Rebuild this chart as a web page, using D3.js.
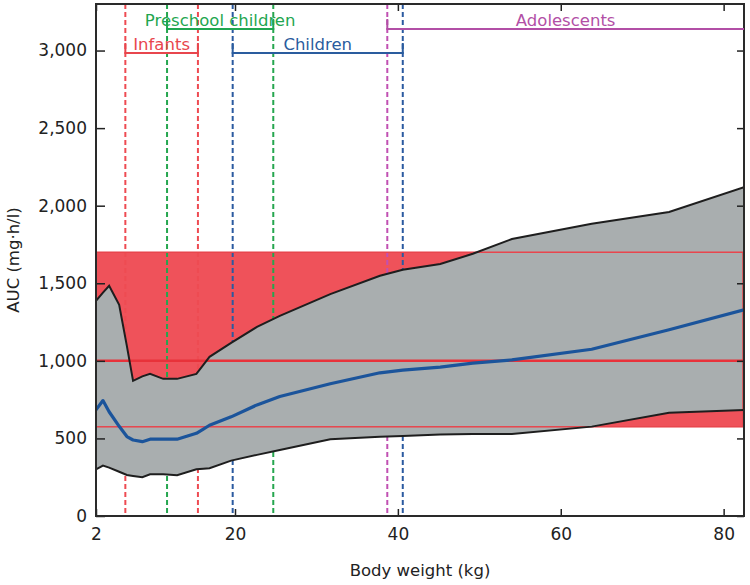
<!DOCTYPE html>
<html>
<head>
<meta charset="utf-8">
<script src="https://cdn.jsdelivr.net/npm/d3@7/dist/d3.min.js"></script>
<style>
  html, body { margin: 0; padding: 0; background: #fff; }
  svg { display: block; }
  text { font-family: "DejaVu Sans", "Liberation Sans", Arial, sans-serif; fill: #222; }
</style>
</head>
<body>
<svg id="chart" width="750" height="585"></svg>
<script>
// ---- data ----
const weights = [2, 2.9, 3.7, 5, 6, 6.8, 8, 9, 10.7, 12.5, 15, 15.9, 16.7, 19.5, 22.7, 25.5, 31.7, 37.8, 40.6, 45.2, 49.2, 54, 63.8, 73.3, 82.5];
const upper   = [1387, 1440, 1484, 1361, 1095, 871, 900, 916, 884, 884, 916, 974, 1026, 1116, 1219, 1290, 1430, 1548, 1587, 1624, 1690, 1785, 1884, 1959, 2120];
const median  = [684, 744, 672, 578, 512, 490, 479, 495, 495, 495, 533, 560, 585, 639, 716, 770, 852, 923, 940, 960, 985, 1006, 1075, 1200, 1329];
const lower   = [301, 325, 312, 285, 264, 258, 250, 269, 269, 263, 301, 305, 308, 357, 394, 426, 495, 510, 515, 526, 528, 529, 576, 665, 684];

const targetLow = 575, targetMid = 1000, targetHigh = 1700;

const yTicks = [0, 500, 1000, 1500, 2000, 2500, 3000];
const xTicks = [2, 20, 40, 60, 80];

const groupNames = ["Infants", "Preschool children", "Children", "Adolescents"];
const groupStart = [5.8, 11.2, 19.7, 38.7];
const groupEnd   = [15.2, 24.7, 40.6, 82.5];
const groupRow   = [1, 0, 1, 0];
const groupColor = ["#e8464d", "#1fa650", "#2a5c9e", "#b24fa6"];
const dashColor  = ["#ee4b52", "#25a64f", "#2b5aa0", "#c150b2"];

// ---- layout ----
const W = 750, H = 585;
const m = { left: 96, top: 4, right: 6, bottom: 69 };
const iw = W - m.left - m.right, ih = H - m.top - m.bottom;

const svg = d3.select("#chart");
const g = svg.append("g").attr("transform", `translate(${m.left},${m.top})`);

const x = d3.scaleLinear().domain([2, 20, 82.5]).range([0, 139, iw]);
const y = d3.scaleLinear().domain([0, 3300]).range([ih, 0]);
const xMin = 2, xMax = 82.5;

// clip
svg.append("defs").append("clipPath").attr("id", "clip")
  .append("rect").attr("width", iw).attr("height", ih);
const plot = g.append("g").attr("clip-path", "url(#clip)");

// 1. target band fill
plot.append("rect")
  .attr("x", x(xMin)).attr("width", x(xMax) - x(xMin))
  .attr("y", y(targetHigh)).attr("height", y(targetLow) - y(targetHigh))
  .attr("fill", "#ef525a");

// 2. dashed age-group lines
const dashVals = [];
groupNames.forEach((n, i) => {
  dashVals.push({ v: groupStart[i], c: dashColor[i] });
  if (groupEnd[i] < xMax) dashVals.push({ v: groupEnd[i], c: dashColor[i] });
});
plot.selectAll("line.dash").data(dashVals).join("line")
  .attr("class", "dash")
  .attr("x1", d => x(d.v)).attr("x2", d => x(d.v))
  .attr("y1", 0).attr("y2", ih)
  .attr("stroke", d => d.c).attr("stroke-width", 2)
  .attr("stroke-dasharray", "5,3");

// 3. gray prediction band
const pts = weights.map((w, i) => ({ w, lo: lower[i], hi: upper[i], med: median[i] }));
plot.append("path").datum(pts)
  .attr("d", d3.area().x(d => x(d.w)).y0(d => y(d.lo)).y1(d => y(d.hi)))
  .attr("fill", "#a9aeaf");

// 4. target band outline + mid line
plot.append("rect")
  .attr("x", x(xMin)).attr("width", x(xMax) - x(xMin) - 1)
  .attr("y", y(targetHigh)).attr("height", y(targetLow) - y(targetHigh))
  .attr("fill", "none").attr("stroke", "#e8464d").attr("stroke-width", 1.5);
plot.append("line")
  .attr("x1", x(xMin)).attr("x2", x(xMax))
  .attr("y1", y(targetMid)).attr("y2", y(targetMid))
  .attr("stroke", "#e8323a").attr("stroke-width", 2.5);

// 5. band borders
const lineHi = d3.line().x(d => x(d.w)).y(d => y(d.hi));
const lineLo = d3.line().x(d => x(d.w)).y(d => y(d.lo));
plot.append("path").datum(pts).attr("d", lineHi)
  .attr("fill", "none").attr("stroke", "#1e1e1e").attr("stroke-width", 2);
plot.append("path").datum(pts).attr("d", lineLo)
  .attr("fill", "none").attr("stroke", "#1e1e1e").attr("stroke-width", 2);

// 6. median
plot.append("path").datum(pts)
  .attr("d", d3.line().x(d => x(d.w)).y(d => y(d.med)))
  .attr("fill", "none").attr("stroke", "#1b549b").attr("stroke-width", 3.2)
  .attr("stroke-linejoin", "round");

// 7. axes
const fmt = d3.format(",");
const yAxis = g.append("g")
  .call(d3.axisLeft(y).tickValues(yTicks).tickFormat(fmt).tickSizeInner(-9).tickSizeOuter(0).tickPadding(9));
const xAxis = g.append("g").attr("transform", `translate(0,${ih})`)
  .call(d3.axisBottom(x).tickValues(xTicks).tickFormat(d3.format("d")).tickSizeInner(-7).tickSizeOuter(0).tickPadding(12));
const yAxisR = g.append("g").attr("transform", `translate(${iw},0)`)
  .call(d3.axisRight(y).tickValues(yTicks).tickFormat("").tickSizeInner(-7).tickSizeOuter(0));
const xAxisT = g.append("g")
  .call(d3.axisTop(x).tickValues(xTicks).tickFormat("").tickSizeInner(-7).tickSizeOuter(0));

[yAxis, xAxis, yAxisR, xAxisT].forEach(a => {
  a.select(".domain").remove();
  a.selectAll(".tick line").attr("stroke", "#222").attr("stroke-width", 1.5);
  a.selectAll(".tick text").attr("font-size", 17).attr("fill", "#222")
    .attr("font-family", "DejaVu Sans, Liberation Sans, Arial, sans-serif");
});

// frame
g.append("rect").attr("width", iw).attr("height", ih)
  .attr("fill", "none").attr("stroke", "#2a2a2a").attr("stroke-width", 2);

// axis titles
g.append("text")
  .attr("x", iw / 2).attr("y", ih + 60)
  .attr("text-anchor", "middle").attr("font-size", 16.5)
  .text("Body weight (kg)");
g.append("text")
  .attr("transform", `translate(${-77},${ih / 2}) rotate(-90)`)
  .attr("text-anchor", "middle").attr("font-size", 16.5)
  .text("AUC (mg·h/l)");

// 8. age-group brackets
const rowY = [25, 49];
const br = g.append("g");
groupNames.forEach((n, i) => {
  const yb = rowY[groupRow[i]];
  const x1 = x(groupStart[i]), x2 = x(groupEnd[i]);
  const endTick = groupEnd[i] < xMax;
  const p = d3.path();
  p.moveTo(x1, yb - 10); p.lineTo(x1, yb); p.lineTo(x2, yb);
  if (endTick) p.lineTo(x2, yb - 10);
  br.append("path").attr("d", p.toString())
    .attr("fill", "none").attr("stroke", groupColor[i]).attr("stroke-width", 2);
  br.append("text")
    .attr("x", (x1 + x2) / 2).attr("y", yb - 3)
    .attr("text-anchor", "middle").attr("font-size", 16.5)
    .style("fill", groupColor[i])
    .text(n);
});
</script>
</body>
</html>
